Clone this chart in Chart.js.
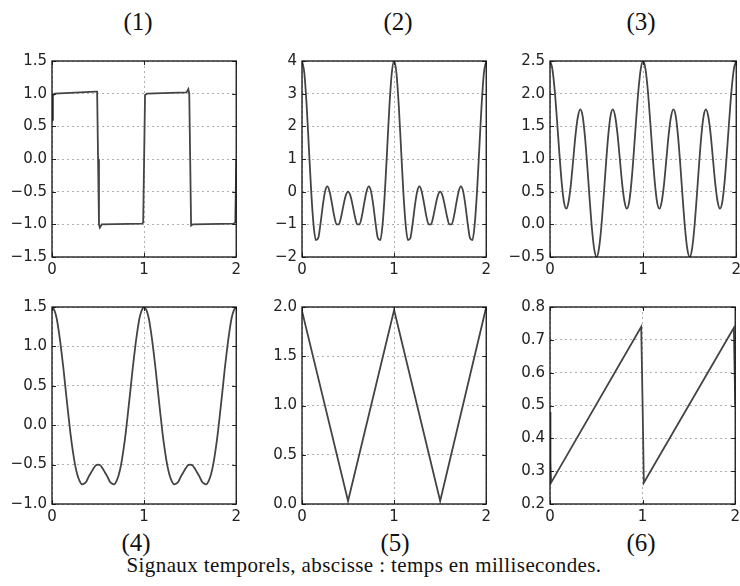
<!DOCTYPE html>
<html>
<head>
<meta charset="utf-8">
<script src="https://cdn.jsdelivr.net/npm/chart.js@4"></script>
<style>
  html, body { margin: 0; padding: 0; background: #fff; overflow: hidden; width: 740px; height: 586px; }
  canvas { position: absolute; }
  .lbl { position: absolute; font-family: "Liberation Serif", serif; color: #111; white-space: nowrap; transform: translateX(-50%); }
  .num { font-size: 25px; line-height: 25px; }
  #caption { font-size: 21px; line-height: 21px; letter-spacing: 0.4px; top: 555px; left: 364px; }
</style>
</head>
<body>
<div class="lbl num" style="left:138px;top:9px">(1)</div>
<div class="lbl num" style="left:398px;top:9px">(2)</div>
<div class="lbl num" style="left:641px;top:9px">(3)</div>
<div class="lbl num" style="left:136px;top:530px">(4)</div>
<div class="lbl num" style="left:395px;top:530px">(5)</div>
<div class="lbl num" style="left:641px;top:530px">(6)</div>
<div class="lbl" id="caption">Signaux temporels, abscisse : temps en millisecondes.</div>

<canvas id="c1"></canvas>
<canvas id="c2"></canvas>
<canvas id="c3"></canvas>
<canvas id="c4"></canvas>
<canvas id="c5"></canvas>
<canvas id="c6"></canvas>

<script>
// time axis (ms)
const t = [0, 0.025, 0.05, 0.075, 0.1, 0.125, 0.15, 0.175, 0.2, 0.225, 0.25, 0.275, 0.3, 0.325, 0.35, 0.375, 0.4, 0.425, 0.45, 0.475,
           0.5, 0.525, 0.55, 0.575, 0.6, 0.625, 0.65, 0.675, 0.7, 0.725, 0.75, 0.775, 0.8, 0.825, 0.85, 0.875, 0.9, 0.925, 0.95, 0.975,
           1, 1.025, 1.05, 1.075, 1.1, 1.125, 1.15, 1.175, 1.2, 1.225, 1.25, 1.275, 1.3, 1.325, 1.35, 1.375, 1.4, 1.425, 1.45, 1.475,
           1.5, 1.525, 1.55, 1.575, 1.6, 1.625, 1.65, 1.675, 1.7, 1.725, 1.75, 1.775, 1.8, 1.825, 1.85, 1.875, 1.9, 1.925, 1.95, 1.975, 2];

// (1) square wave
const t1 = [0, 0.01, 0.03, 0.47, 0.49, 0.5, 0.51, 0.52, 0.54, 0.98, 0.99, 1.0, 1.01, 1.03, 1.46, 1.48, 1.49, 1.5, 1.51, 1.53, 1.97, 1.99, 2.0];
const sig1 = [0.6, 0.97, 1.0, 1.03, 1.03, 0, -1.0, -1.05, -1.0, -0.99, -0.97, 0, 0.98, 1.0, 1.02, 1.07, 1.0, 0, -1.02, -1.0, -0.99, -0.97, 0];

// (2)
const sig2 = [4, 3.64, 2.66, 1.33, 0, -1, -1.48, -1.43, -1, -0.44, 0, 0.16, 0, -0.36, -0.75, -1, -1, -0.77, -0.42, -0.12,
              0, -0.12, -0.42, -0.77, -1, -1, -0.75, -0.36, 0, 0.16, 0, -0.44, -1, -1.43, -1.48, -1, 0, 1.33, 2.66, 3.64,
              4, 3.64, 2.66, 1.33, 0, -1, -1.48, -1.43, -1, -0.44, 0, 0.16, 0, -0.36, -0.75, -1, -1, -0.77, -0.42, -0.12,
              0, -0.12, -0.42, -0.77, -1, -1, -0.75, -0.36, 0, 0.16, 0, -0.44, -1, -1.43, -1.48, -1, 0, 1.33, 2.66, 3.64, 4];

// (3)
const sig3 = [2.5, 2.38, 2.06, 1.6, 1.1, 0.65, 0.34, 0.24, 0.35, 0.62, 1, 1.38, 1.65, 1.76, 1.66, 1.35, 0.9, 0.4, -0.06, -0.38,
              -0.5, -0.38, -0.06, 0.4, 0.9, 1.35, 1.66, 1.76, 1.65, 1.38, 1, 0.62, 0.35, 0.24, 0.34, 0.65, 1.1, 1.6, 2.06, 2.38,
              2.5, 2.38, 2.06, 1.6, 1.1, 0.65, 0.34, 0.24, 0.35, 0.62, 1, 1.38, 1.65, 1.76, 1.66, 1.35, 0.9, 0.4, -0.06, -0.38,
              -0.5, -0.38, -0.06, 0.4, 0.9, 1.35, 1.66, 1.76, 1.65, 1.38, 1, 0.62, 0.35, 0.24, 0.34, 0.65, 1.1, 1.6, 2.06, 2.38, 2.5];

// (4)
const sig4 = [1.5, 1.46, 1.36, 1.18, 0.96, 0.71, 0.43, 0.16, -0.1, -0.32, -0.5, -0.63, -0.71, -0.75, -0.74, -0.71, -0.65, -0.6, -0.55, -0.51,
              -0.5, -0.51, -0.55, -0.6, -0.65, -0.71, -0.74, -0.75, -0.71, -0.63, -0.5, -0.32, -0.1, 0.16, 0.43, 0.71, 0.96, 1.18, 1.36, 1.46,
              1.5, 1.46, 1.36, 1.18, 0.96, 0.71, 0.43, 0.16, -0.1, -0.32, -0.5, -0.63, -0.71, -0.75, -0.74, -0.71, -0.65, -0.6, -0.55, -0.51,
              -0.5, -0.51, -0.55, -0.6, -0.65, -0.71, -0.74, -0.75, -0.71, -0.63, -0.5, -0.32, -0.1, 0.16, 0.43, 0.71, 0.96, 1.18, 1.36, 1.46, 1.5];

// (5) triangle
const t5 = [0, 0.5, 1, 1.5, 2];
const sig5 = [1.96, 0.03, 1.97, 0.03, 2.0];

// (6) sawtooth
const t6 = [0, 0.005, 0.012, 0.985, 1.0, 1.013, 1.985, 2.0];
const sig6 = [0.48, 0.33, 0.265, 0.74, 0.5, 0.265, 0.737, 0.5];

// y scale settings per panel: min, max, step, decimals
const yRanges = [
  [-1.5, 1.5, 0.5, 1],
  [-2, 4, 1, 0],
  [-0.5, 2.5, 0.5, 1],
  [-1.0, 1.5, 0.5, 1],
  [0, 2.0, 0.5, 1],
  [0.2, 0.8, 0.1, 1]
];

// plot area boxes: left, top, width, height
const boxes = [
  [52, 59, 185, 198], [302, 59, 185, 198], [550, 59, 187, 198],
  [52, 305, 185, 199], [302, 305, 185, 199], [550, 305, 186, 199]
];

const Y_W = 50, PAD_T = 12, PAD_R = 8, X_H = 28;

const framePlugin = {
  id: 'frame',
  afterDraw(chart) {
    const { ctx, chartArea: a, scales } = chart;
    ctx.save();
    ctx.strokeStyle = '#222';
    ctx.lineWidth = 1;
    ctx.beginPath();
    scales.y.ticks.forEach((tk, i) => {
      const py = Math.round(scales.y.getPixelForTick(i)) + 0.5;
      ctx.moveTo(a.left, py); ctx.lineTo(a.left + 4, py);
      ctx.moveTo(a.right, py); ctx.lineTo(a.right - 4, py);
    });
    scales.x.ticks.forEach((tk, i) => {
      const px = Math.round(scales.x.getPixelForTick(i)) + 0.5;
      ctx.moveTo(px, a.top); ctx.lineTo(px, a.top + 4);
      ctx.moveTo(px, a.bottom); ctx.lineTo(px, a.bottom - 4);
    });
    ctx.stroke();
    ctx.strokeStyle = '#111';
    ctx.lineWidth = 1.3;
    ctx.strokeRect(a.left, a.top, a.right - a.left, a.bottom - a.top);
    ctx.restore();
  }
};

function fmt(v, dec) {
  return (dec ? v.toFixed(dec) : String(Math.round(v))).replace('-', '\u2212');
}

function makeChart(idx, xs, ys, smooth) {
  const [l, tp, w, h] = boxes[idx];
  const [ymin, ymax, ystep, dec] = yRanges[idx];
  const cv = document.getElementById('c' + (idx + 1));
  cv.width = Y_W + w + PAD_R;
  cv.height = PAD_T + h + X_H;
  cv.style.left = (l - Y_W) + 'px';
  cv.style.top = (tp - PAD_T) + 'px';

  const tickFont = { family: 'DejaVu Sans', size: 15 };
  const grid = { color: '#b0b0b0', lineWidth: 1, drawTicks: false };
  const border = { display: false, dash: [2, 3] };

  return new Chart(cv.getContext('2d'), {
    type: 'line',
    data: {
      datasets: [{
        data: xs.map((x, i) => ({ x: x, y: ys[i] })),
        borderColor: '#444',
        borderWidth: 1.8,
        pointRadius: 0,
        fill: false,
        tension: smooth ? 0.4 : 0,
        cubicInterpolationMode: smooth ? 'monotone' : 'default'
      }]
    },
    options: {
      responsive: false,
      animation: false,
      events: [],
      layout: { padding: { top: PAD_T, right: PAD_R, left: 0, bottom: 0 } },
      plugins: { legend: { display: false }, tooltip: { enabled: false } },
      scales: {
        x: {
          type: 'linear', min: 0, max: 2,
          grid: grid, border: border,
          ticks: { stepSize: 1, font: tickFont, color: '#222', padding: 4, maxRotation: 0,
                   callback: v => fmt(v, 0) },
          afterFit: s => { s.height = X_H; }
        },
        y: {
          min: ymin, max: ymax,
          grid: grid, border: border,
          ticks: { stepSize: ystep, font: tickFont, color: '#222', padding: 5, autoSkip: false,
                   callback: v => fmt(v, dec) },
          afterFit: s => { s.width = Y_W; }
        }
      }
    },
    plugins: [framePlugin]
  });
}

makeChart(0, t1, sig1, false);
makeChart(1, t, sig2, true);
makeChart(2, t, sig3, true);
makeChart(3, t, sig4, true);
makeChart(4, t5, sig5, false);
makeChart(5, t6, sig6, false);
</script>
</body>
</html>
